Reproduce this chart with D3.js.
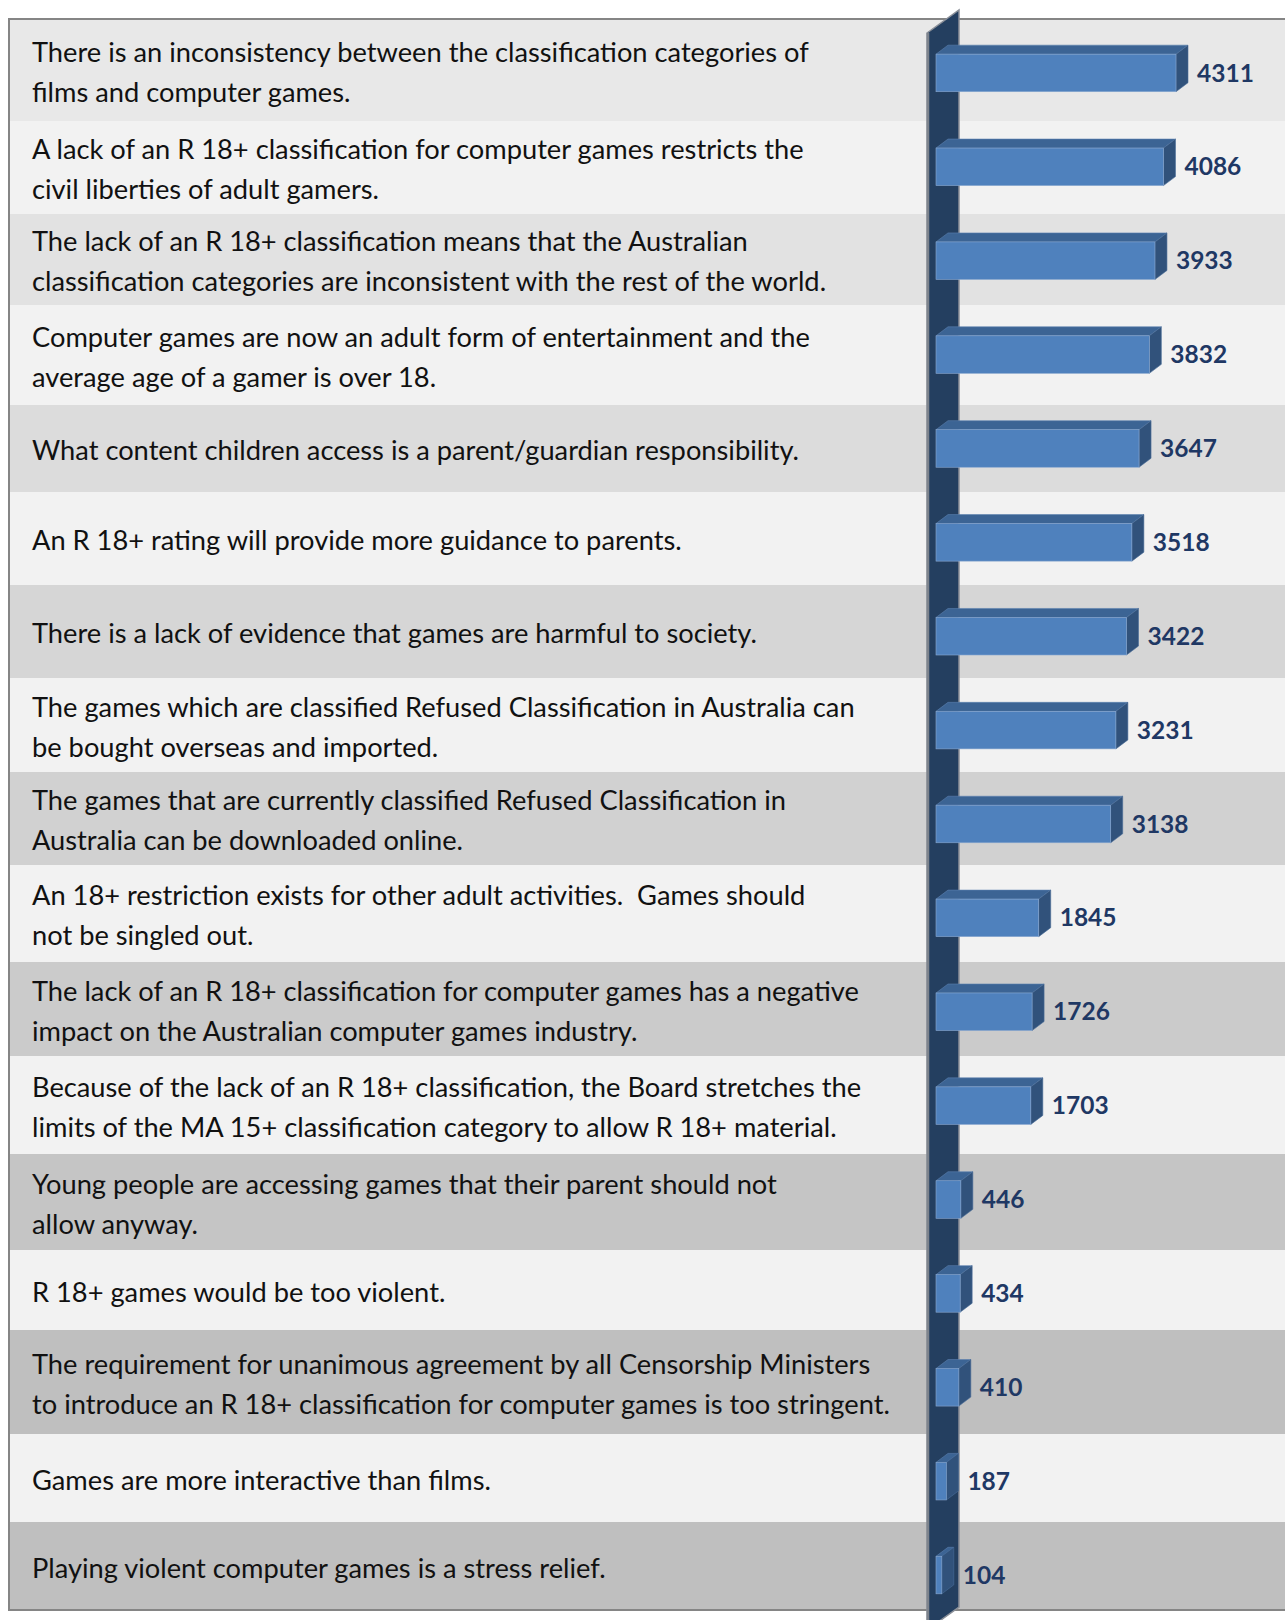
<!DOCTYPE html>
<html>
<head>
<meta charset="utf-8">
<script src="https://cdn.jsdelivr.net/npm/d3@7"></script>
<style>
  body { margin: 0; background: #fff; }
  svg { display: block; }
  #labels text { white-space: pre; }
</style>
</head>
<body>
<div id="chart"></div>
<script>
// statements, one entry per row, split where the original wraps
const categories = [
    ['There is an inconsistency between the classification categories of', 'films and computer games.'],
    ['A lack of an R 18+ classification for computer games restricts the', 'civil liberties of adult gamers.'],
    ['The lack of an R 18+ classification means that the Australian', 'classification categories are inconsistent with the rest of the world.'],
    ['Computer games are now an adult form of entertainment and the', 'average age of a gamer is over 18.'],
    ['What content children access is a parent/guardian responsibility.'],
    ['An R 18+ rating will provide more guidance to parents.'],
    ['There is a lack of evidence that games are harmful to society.'],
    ['The games which are classified Refused Classification in Australia can', 'be bought overseas and imported.'],
    ['The games that are currently classified Refused Classification in', 'Australia can be downloaded online.'],
    ['An 18+ restriction exists for other adult activities.  Games should', 'not be singled out.'],
    ['The lack of an R 18+ classification for computer games has a negative', 'impact on the Australian computer games industry.'],
    ['Because of the lack of an R 18+ classification, the Board stretches the', 'limits of the MA 15+ classification category to allow R 18+ material.'],
    ['Young people are accessing games that their parent should not', 'allow anyway.'],
    ['R 18+ games would be too violent.'],
    ['The requirement for unanimous agreement by all Censorship Ministers', 'to introduce an R 18+ classification for computer games is too stringent.'],
    ['Games are more interactive than films.'],
    ['Playing violent computer games is a stress relief.']
];
const values = [4311, 4086, 3933, 3832, 3647, 3518, 3422, 3231, 3138, 1845, 1726, 1703, 446, 434, 410, 187, 104];

// layout
const width = 1285, height = 1620;
const frame = {left: 9, top: 19};
const rowHeights = [102, 93, 91, 100, 87, 93, 93, 94, 93, 97, 94, 98, 96, 80, 104, 88, 88];
const depth = {dx: 12, dy: -9};
const lineGap = 40;
const textX = 32;
const widestLine = 858;

const svg = d3.select('#chart').append('svg')
    .attr('width', width)
    .attr('height', height);

const edges = Array.from(d3.cumsum([frame.top, ...rowHeights]));
const idx = d3.range(values.length);

const y = d3.scaleBand()
    .domain(idx)
    .range([26, 1622])
    .paddingInner(0.6)
    .paddingOuter(0.3);
const x = d3.scaleLinear()
    .domain([0, 4500])
    .range([936, 936 + 4500 * 240 / 4311]);

// odd rows get darker going down, even rows stay light
const shade = d3.scaleLinear().domain([0, 7]).range(['#e8e8e8', '#bfbfbf']).clamp(true);
const rowFill = i => i % 2 ? '#f2f2f2' : shade(i / 2);

// table backdrop
const rows = svg.append('g').attr('id', 'rows');
rows.selectAll('rect')
    .data(idx)
    .join('rect')
    .attr('x', frame.left)
    .attr('y', i => edges[i])
    .attr('width', width)
    .attr('height', i => rowHeights[i])
    .attr('fill', rowFill);

svg.append('rect')
    .attr('x', frame.left)
    .attr('y', frame.top)
    .attr('width', width + 20)
    .attr('height', edges[edges.length - 1] - frame.top)
    .attr('fill', 'none')
    .attr('stroke', '#858585')
    .attr('stroke-width', 2);

// statement text
const text = svg.append('g')
    .attr('id', 'labels')
    .attr('font-family', 'Lato, "Open Sans", sans-serif')
    .attr('fill', '#111');

const texts = text.selectAll('text')
    .data(idx)
    .join('text')
    .attr('font-size', 27);
texts.selectAll('tspan')
    .data(i => categories[i].map((t, j) => ({t, j, i, n: categories[i].length})))
    .join('tspan')
    .attr('x', textX)
    .attr('y', d => (edges[d.i] + edges[d.i + 1]) / 2 + 2 + (d.j - (d.n - 1) / 2) * lineGap)
    .attr('dy', '0.35em')
    .text(d => d.t);

// fit font size so the longest line matches the original width
let maxW = 0;
texts.selectAll('tspan').each(function () {
    maxW = Math.max(maxW, this.getComputedTextLength());
});
texts.attr('font-size', 27 * widestLine / maxW);

// the dark 3D wall the bars stand on
const x0 = x(0);
svg.append('polygon')
    .attr('points', [[x0 - 9, 33], [x0 + 23, 10], [x0 + 23, 1607], [x0 - 9, 1630]].join(' '))
    .attr('fill', '#243f60')
    .attr('stroke', '#8a8f98')
    .attr('stroke-width', 1.5);
svg.append('line')
    .attr('x1', x0 - 8).attr('x2', x0 - 8)
    .attr('y1', 33).attr('y2', 1630)
    .attr('stroke', '#7d838c')
    .attr('stroke-width', 2.5);

// bars
const bars = svg.append('g').attr('id', 'bars')
    .selectAll('g')
    .data(idx)
    .join('g');
const dx = depth.dx, dy = depth.dy;
bars.append('polygon')
    .attr('points', i => {
        const a = x0, b = x(values[i]), t = y(i);
        return [[a, t], [b, t], [b + dx, t + dy], [a + dx, t + dy]].join(' ');
    })
    .attr('fill', '#3c6494')
    .attr('stroke', '#5a7fae')
    .attr('stroke-width', 0.6);
bars.append('polygon')
    .attr('points', i => {
        const b = x(values[i]), t = y(i), btm = y(i) + y.bandwidth();
        return [[b, t], [b + dx, t + dy], [b + dx, btm + dy], [b, btm]].join(' ');
    })
    .attr('fill', '#31527b')
    .attr('stroke', '#4a6d99')
    .attr('stroke-width', 0.6);
bars.append('rect')
    .attr('x', x0)
    .attr('y', i => y(i))
    .attr('width', i => x(values[i]) - x0)
    .attr('height', y.bandwidth())
    .attr('fill', '#4f81bd')
    .attr('stroke', '#8aa8d0')
    .attr('stroke-width', 0.6);

// value labels
svg.append('g').attr('id', 'values')
    .selectAll('text')
    .data(idx)
    .join('text')
    .attr('x', i => x(values[i]) + dx + 9)
    .attr('y', i => y(i) + y.bandwidth() / 2)
    .attr('dy', '0.35em')
    .attr('font-family', 'Lato, "Open Sans", sans-serif')
    .attr('font-weight', 'bold')
    .attr('font-size', 24.5)
    .attr('fill', '#1f3864')
    .text(i => values[i]);
</script>
</body>
</html>
